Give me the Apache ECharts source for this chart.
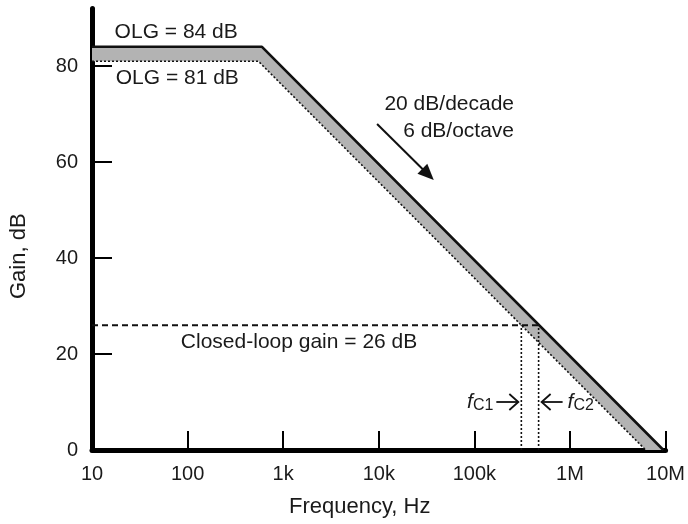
<!DOCTYPE html>
<html><head><meta charset="utf-8">
<script src="https://cdn.jsdelivr.net/npm/echarts@6/dist/echarts.min.js"></script>
<style>html,body{margin:0;padding:0;background:#fff}#c{width:688px;height:524px}</style>
</head><body><div id="c"></div>
<script>
// ---- data ----
const xTickValues = [10, 100, 1e3, 1e4, 1e5, 1e6, 1e7];
const xTickLabels = ['10', '100', '1k', '10k', '100k', '1M', '10M'];
const yTickValues = [0, 20, 40, 60, 80];
const olg84 = [[10, 84], [600, 84], [9.5e6, 0]];
const olg81 = [[10, 81], [550, 81], [6.2e6, 0]];
const closedLoop = [[10, 26], [4.7e5, 26]];
const fc1Line = [[3.1e5, 0], [3.1e5, 26]];
const fc2Line = [[4.7e5, 0], [4.7e5, 26]];
// annotation anchors (data coordinates)
const noteTexts = ['OLG = 84 dB', 'OLG = 81 dB', '20 dB/decade', '6 dB/octave', 'Closed-loop gain = 26 dB'];
const noteAnchors = [[76, 87.1], [78, 77.5], [2.6e5, 72], [2.6e5, 66.5], [1466, 22.5]];
const noteAligns = ['center', 'center', 'right', 'right', 'center'];
const slopeArrow = [[9.6e3, 67.9], [3.76e4, 56.25]];
const fcLabelY = 10;

const FONT = '"Liberation Sans", Arial, Helvetica, sans-serif';
const INK = '#1a1a1a';
const chart = echarts.init(document.getElementById('c'), null, {renderer: 'canvas'});

const option = {
  animation: false,
  backgroundColor: '#fff',
  grid: {left: 90, right: 19, top: 8.4, bottom: 74, containLabel: false},
  xAxis: {
    type: 'log', logBase: 10, min: 10, max: 1e7,
    name: 'Frequency, Hz', nameLocation: 'middle', nameGap: 46,
    nameTextStyle: {fontFamily: FONT, fontSize: 22, color: INK, padding: [0, 38, 0, 0]},
    axisLine: {show: true, lineStyle: {color: '#000', width: 5, cap: 'round'}},
    axisTick: {show: true, inside: true, length: 19, lineStyle: {color: '#000', width: 2}, customValues: xTickValues},
    axisLabel: {fontFamily: FONT, fontSize: 20, color: INK, margin: 14, customValues: xTickValues,
      formatter: v => { const i = xTickValues.findIndex(t => Math.abs(Math.log10(t) - Math.log10(v)) < 1e-6); return i >= 0 ? xTickLabels[i] : ''; }},
    splitLine: {show: false}
  },
  yAxis: {
    type: 'value', min: 0, max: 92, interval: 20,
    name: 'Gain, dB', nameLocation: 'middle', nameGap: 62, nameRotate: 90,
    nameTextStyle: {fontFamily: FONT, fontSize: 22, color: INK, padding: [0, 54, 0, 0]},
    axisLine: {show: true, lineStyle: {color: '#000', width: 5, cap: 'round'}},
    axisTick: {show: true, inside: true, length: 20, lineStyle: {color: '#000', width: 2}, customValues: yTickValues.slice(1)},
    axisLabel: {fontFamily: FONT, fontSize: 20, color: INK, margin: 14, customValues: yTickValues},
    splitLine: {show: false}
  },
  series: [
    {
      type: 'custom', coordinateSystem: 'cartesian2d', data: [[10, 0]], z: 1, silent: true,
      renderItem: (params, api) => {
        const pts = olg84.map(p => api.coord(p)).concat(olg81.slice().reverse().map(p => api.coord(p)));
        return {type: 'polygon', shape: {points: pts}, style: {fill: '#b3b3b3'}};
      }
    },
    {type: 'line', data: olg81, symbol: 'none', z: 3, lineStyle: {color: '#111', width: 1.6, type: [2, 2]}},
    {type: 'line', data: olg84, symbol: 'none', z: 4, lineStyle: {color: '#111', width: 2.6}},
    {type: 'line', data: closedLoop, symbol: 'none', z: 3, lineStyle: {color: '#111', width: 2, type: [6, 4]}},
    {type: 'line', data: fc1Line, symbol: 'none', z: 3, lineStyle: {color: '#111', width: 1.6, type: [2, 2]}},
    {type: 'line', data: fc2Line, symbol: 'none', z: 3, lineStyle: {color: '#111', width: 1.6, type: [2, 2]}}
  ]
};
chart.setOption(option);

function px(p) { return chart.convertToPixel({gridIndex: 0}, p); }
const g = [];
noteTexts.forEach((t, i) => {
  const p = px(noteAnchors[i]);
  g.push({type: 'text', x: p[0], y: p[1], z: 10,
    style: {text: t, fontFamily: FONT, fontSize: 21, fill: INK, align: noteAligns[i], verticalAlign: 'middle'}});
});
// slope arrow
(function () {
  const a = px(slopeArrow[0]), b = px(slopeArrow[1]);
  const dx = b[0] - a[0], dy = b[1] - a[1], L = Math.hypot(dx, dy), ux = dx / L, uy = dy / L;
  const hl = 16, hw = 7;
  const base = [b[0] - ux * hl, b[1] - uy * hl];
  g.push({type: 'line', z: 10, shape: {x1: a[0], y1: a[1], x2: base[0] + ux * 2, y2: base[1] + uy * 2}, style: {stroke: '#111', lineWidth: 2}});
  g.push({type: 'polygon', z: 10, shape: {points: [b, [base[0] - uy * hw, base[1] + ux * hw], [base[0] + uy * hw, base[1] - ux * hw]]}, style: {fill: '#111'}});
})();
// fC labels and arrows
(function () {
  const p1 = px([fc1Line[0][0], fcLabelY]), p2 = px([fc2Line[0][0], fcLabelY]);
  const y = p1[1];
  function openArrow(x1, x2) {
    const dir = Math.sign(x2 - x1);
    g.push({type: 'line', z: 10, shape: {x1: x1, y1: y, x2: x2, y2: y}, style: {stroke: '#111', lineWidth: 1.8}});
    g.push({type: 'polyline', z: 10, shape: {points: [[x2 - dir * 9, y - 8], [x2, y], [x2 - dir * 9, y + 8]]}, style: {stroke: '#111', lineWidth: 1.8, fill: null}});
  }
  openArrow(p1[0] - 25, p1[0] - 3);
  openArrow(p2[0] + 24, p2[0] + 3);
  const rich = {i: {fontFamily: FONT, fontSize: 21, fontStyle: 'italic', fill: INK, color: INK},
                s: {fontFamily: FONT, fontSize: 16, fill: INK, color: INK, padding: [8, 0, 0, 0]}};
  g.push({type: 'text', x: p1[0] - 28, y: y, z: 10, style: {text: '{i|f}{s|C1}', rich: rich, align: 'right', verticalAlign: 'middle'}});
  g.push({type: 'text', x: p2[0] + 29, y: y, z: 10, style: {text: '{i|f}{s|C2}', rich: rich, align: 'left', verticalAlign: 'middle'}});
})();
chart.setOption({graphic: {elements: g}});
</script>
</body></html>
